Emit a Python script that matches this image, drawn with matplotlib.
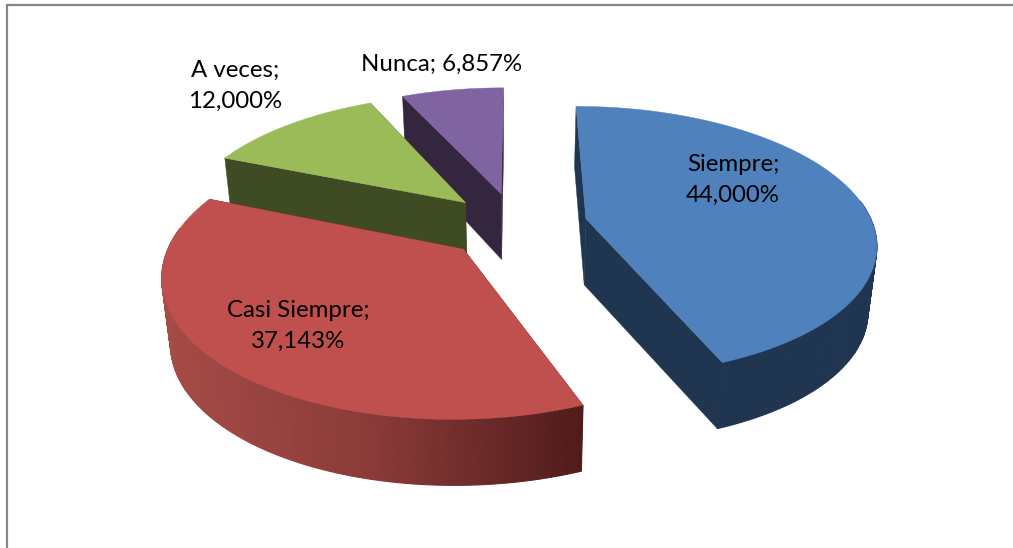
import matplotlib
matplotlib.use("Agg")
import matplotlib.pyplot as plt
import numpy as np
from matplotlib.colors import LinearSegmentedColormap

categories = ["Siempre", "Casi Siempre", "A veces", "Nunca"]
values = [44.0, 37.143, 12.0, 6.857]
top_colors = ["#4F81BD", "#C0504D", "#9BBB59", "#8064A2"]
side_colors = ["#1F3550", "#501C1B", "#3F4B23", "#352640"]
label_pos = [(733, 180), (298, 326), (235, 86), (442, 64)]
label_breaks = [True, True, True, False]

# perspective of the pie plane, in pixels
cx, cy = 516, 225
rx, ry = 287, 133
k = 0.166
explode_u, explode_v = 0.25, 0.25
bottom_shrink = 0.975

plt.rcParams["font.family"] = ["Lato", "DejaVu Sans"]

red_wall = LinearSegmentedColormap.from_list("red_wall", ["#A64B47", "#8A3B38", "#501C1B"])


def project(u, v, bottom=False):
    w = 1 + k * v
    x = cx + rx * u / w
    y = cy - ry * v / w
    if bottom:
        x = cx + (x - cx) * bottom_shrink
        y = y + 66 - 5 * np.clip(v, 0, None) ** 2
    return x, y


fig = plt.figure(figsize=(10.13, 5.48), dpi=100)
ax = fig.add_axes([0, 0, 1, 1])

# chart frame, only top and left are in the picture
ax.plot([1013, 6.5, 6.5], [4.5, 4.5, 548], color="#858585", lw=1.6, zorder=1, solid_joinstyle="miter")

fractions = np.array(values) / sum(values)
ends = np.cumsum(fractions) * 2 * np.pi
starts = ends - fractions * 2 * np.pi

# far slices first so the nearer ones cover them
for i in reversed(range(len(values))):
    a0, a1 = starts[i], ends[i]
    mid = (a0 + a1) / 2
    au, av = explode_u * np.sin(mid), explode_v * np.cos(mid)
    t = np.linspace(a0, a1, 200)
    u = au + np.sin(t)
    v = av + np.cos(t)
    tx, ty = project(u, v)
    bx, by = project(u, v, bottom=True)
    apex_t = project(au, av)
    apex_b = project(au, av, bottom=True)
    base_z = 2 + (len(values) - i) * 0.1

    # the two flat cut faces
    for j in (0, -1):
        ax.fill([apex_t[0], tx[j], bx[j], apex_b[0]], [apex_t[1], ty[j], by[j], apex_b[1]], color=side_colors[i], lw=0.3, zorder=base_z)

    # round outer wall, strip by strip because it folds over at the sides
    xmin, xmax = tx.min(), tx.max()
    for j in range(len(t) - 1):
        if np.cos(t[j]) > 0.15:
            continue
        col = side_colors[i]
        if categories[i] == "Casi Siempre":
            # shading runs from left to right on this wall only
            col = red_wall((tx[j] - xmin) / (xmax - xmin))
        ax.fill([tx[j], tx[j + 1], bx[j + 1], bx[j]], [ty[j], ty[j + 1], by[j + 1], by[j]], color=col, lw=0.8, zorder=base_z)

    # top
    ax.fill(np.r_[apex_t[0], tx], np.r_[apex_t[1], ty], color=top_colors[i], lw=0.3, zorder=base_z + 0.02)

ax.set_xlim(0, 1013)
ax.set_ylim(548, 0)
ax.axis("off")

for name, val, pos, brk in zip(categories, values, label_pos, label_breaks):
    txt = "{:.3f}%".format(val).replace(".", ",")
    sep = ";\n" if brk else "; "
    ax.text(pos[0], pos[1], name + sep + txt, ha="center", va="center", fontsize=17.3, color="black", linespacing=1.56, zorder=5)

fig.savefig("out.png", dpi=100)
